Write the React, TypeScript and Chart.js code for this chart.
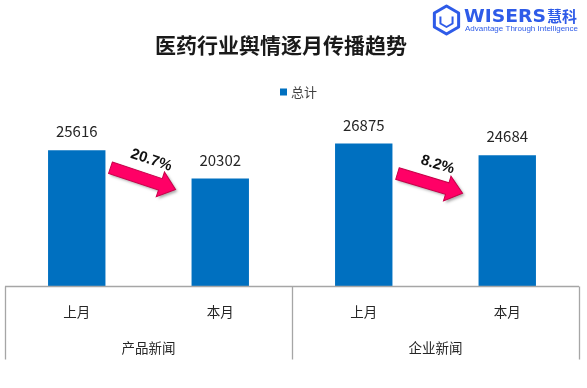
import React, { useEffect, useRef } from 'react';
import { Chart, registerables } from 'chart.js';

Chart.register(...registerables);

const chartTitle = '医药行业舆情逐月传播趋势';
const seriesName = '总计';
const categories = ['上月', '本月', '上月', '本月'];
const groups = ['产品新闻', '企业新闻'];
const values = [25616, 20302, 26875, 24684];
const changes = ['20.7%', '8.2%'];
const yMax = 30000;

const BLUE = '#0070C0';
const LOGO_BLUE = '#2E5BE8';
const CJK = '"Noto Sans CJK SC", "Noto Sans", sans-serif';

function drawArrow(ctx: CanvasRenderingContext2D, x1: number, y1: number, x2: number, y2: number) {
  const dx = x2 - x1;
  const dy = y2 - y1;
  const len = Math.hypot(dx, dy);
  const bw = 6;
  const hw = 13;
  const hl = 16;
  ctx.save();
  ctx.translate(x1, y1);
  ctx.rotate(Math.atan2(dy, dx));
  ctx.beginPath();
  ctx.moveTo(0, -bw);
  ctx.lineTo(len - hl, -bw);
  ctx.lineTo(len - hl, -hw);
  ctx.lineTo(len, 0);
  ctx.lineTo(len - hl, hw);
  ctx.lineTo(len - hl, bw);
  ctx.lineTo(0, bw);
  ctx.closePath();
  ctx.shadowColor = 'rgba(0,0,0,0.35)';
  ctx.shadowBlur = 3;
  ctx.shadowOffsetX = 2;
  ctx.shadowOffsetY = 2;
  ctx.fillStyle = '#FF0066';
  ctx.fill();
  ctx.shadowColor = 'transparent';
  ctx.strokeStyle = '#C8004A';
  ctx.lineWidth = 1;
  ctx.stroke();
  ctx.restore();
}

function drawLogo(ctx: CanvasRenderingContext2D) {
  ctx.save();
  const cx = 446.5;
  const cy = 20;
  const r = 14;
  ctx.strokeStyle = LOGO_BLUE;
  ctx.lineWidth = 3;
  ctx.lineJoin = 'round';
  ctx.beginPath();
  for (let i = 0; i < 6; i++) {
    const a = (Math.PI / 3) * i - Math.PI / 2;
    const px = cx + r * Math.cos(a);
    const py = cy + r * Math.sin(a);
    if (i === 0) ctx.moveTo(px, py);
    else ctx.lineTo(px, py);
  }
  ctx.closePath();
  ctx.stroke();
  ctx.lineWidth = 2;
  ctx.beginPath();
  const r2 = 7;
  for (let i = 0; i < 5; i++) {
    const a = (Math.PI / 3) * i - Math.PI / 6;
    const px = cx + r2 * Math.cos(a);
    const py = cy + r2 * Math.sin(a);
    if (i === 0) ctx.moveTo(px, py);
    else ctx.lineTo(px, py);
  }
  ctx.stroke();

  ctx.fillStyle = LOGO_BLUE;
  ctx.textBaseline = 'alphabetic';
  ctx.textAlign = 'left';
  ctx.font = 'bold 18px "DejaVu Sans", "Liberation Sans", Arial, sans-serif';
  const word = 'WISERS';
  const natural = ctx.measureText(word).width;
  ctx.save();
  ctx.translate(464, 22);
  ctx.scale(82 / natural, 1);
  ctx.fillText(word, 0, 0);
  ctx.restore();
  ctx.font = `bold 15px ${CJK}`;
  ctx.fillText('慧科', 547, 22);
  ctx.font = '8px "Liberation Sans", Arial, sans-serif';
  const tag = 'Advantage Through Intelligence';
  const w = ctx.measureText(tag).width;
  ctx.save();
  ctx.translate(465, 31);
  ctx.scale(113 / w, 1);
  ctx.fillText(tag, 0, 0);
  ctx.restore();
  ctx.restore();
}

const decorPlugin = {
  id: 'decor',
  beforeDraw(chart: any) {
    const ctx: CanvasRenderingContext2D = chart.ctx;
    ctx.save();
    ctx.fillStyle = '#FFFFFF';
    ctx.fillRect(0, 0, chart.width, chart.height);
    ctx.restore();
  },
  afterDatasetsDraw(chart: any) {
    const ctx: CanvasRenderingContext2D = chart.ctx;
    const area = chart.chartArea;
    const xs = chart.scales.x;
    const meta = chart.getDatasetMeta(0);
    ctx.save();

    // title
    ctx.fillStyle = '#1A1A1A';
    ctx.textAlign = 'center';
    ctx.textBaseline = 'middle';
    ctx.font = `bold 21px ${CJK}`;
    ctx.fillText(chartTitle, 281, 45);

    // legend
    ctx.font = `13px ${CJK}`;
    const lx = 280;
    ctx.fillStyle = BLUE;
    ctx.fillRect(lx, 88.5, 7, 7);
    ctx.fillStyle = '#404040';
    ctx.textAlign = 'left';
    ctx.fillText(seriesName, lx + 11, 92);

    // data labels
    ctx.textAlign = 'center';
    ctx.textBaseline = 'middle';
    ctx.fillStyle = '#262626';
    ctx.font = `15px ${CJK}`;
    meta.data.forEach((bar: any, i: number) => {
      ctx.fillText(String(values[i]), bar.x, bar.y - 18.5);
    });

    // axis
    const step = xs.getPixelForValue(1) - xs.getPixelForValue(0);
    const bottom = Math.round(area.bottom) + 0.5;
    ctx.strokeStyle = '#A6A6A6';
    ctx.lineWidth = 1.3;
    ctx.beginPath();
    const leftX = xs.getPixelForValue(0) - step / 2;
    const rightX = xs.getPixelForValue(categories.length - 1) + step / 2;
    ctx.moveTo(leftX, bottom);
    ctx.lineTo(rightX, bottom);
    for (let g = 0; g <= groups.length; g++) {
      const bx = Math.round(xs.getPixelForValue(g * 2) - step / 2) + 0.5;
      ctx.moveTo(bx, bottom);
      ctx.lineTo(bx, bottom + 73);
    }
    ctx.stroke();

    ctx.fillStyle = '#262626';
    ctx.font = `13.5px ${CJK}`;
    categories.forEach((c, i) => {
      ctx.fillText(c, xs.getPixelForValue(i), bottom + 25.5);
    });
    groups.forEach((g, gi) => {
      const gx = (xs.getPixelForValue(gi * 2) + xs.getPixelForValue(gi * 2 + 1)) / 2;
      ctx.fillText(g, gx, bottom + 61);
    });

    // change arrows
    const startOff = [17.5, 30];
    const endOff = [11, 38];
    changes.forEach((txt, i) => {
      const a = meta.data[i * 2];
      const b = meta.data[i * 2 + 1];
      const x1 = a.x + a.width / 2 + 5;
      const y1 = a.y + startOff[i];
      const x2 = b.x - b.width / 2 - 16;
      const y2 = b.y + endOff[i];
      drawArrow(ctx, x1, y1, x2, y2);
      const ang = Math.atan2(y2 - y1, x2 - x1);
      ctx.save();
      ctx.translate((x1 + x2) / 2, (y1 + y2) / 2);
      ctx.rotate(ang);
      ctx.fillStyle = '#111111';
      ctx.font = 'bold 15px "Liberation Sans", Arial, sans-serif';
      ctx.textAlign = 'center';
      ctx.textBaseline = 'middle';
      ctx.fillText(txt, 2, -20);
      ctx.restore();
    });

    drawLogo(ctx);
    ctx.restore();
  },
};

export default function App() {
  const ref = useRef<HTMLCanvasElement | null>(null);
  useEffect(() => {
    if (!ref.current) return;
    const chart = new Chart(ref.current, {
      type: 'bar',
      data: {
        labels: categories,
        datasets: [
          {
            label: seriesName,
            data: values,
            backgroundColor: BLUE,
            borderWidth: 0,
            barPercentage: 0.4,
            categoryPercentage: 1,
          },
        ],
      },
      options: {
        responsive: false,
        animation: false,
        devicePixelRatio: 1,
        layout: { padding: { left: 5, right: 8, top: 127, bottom: 102 } },
        scales: {
          x: { display: false, offset: true, grid: { display: false } },
          y: { display: false, min: 0, max: yMax },
        },
        plugins: {
          legend: { display: false },
          title: { display: false },
          tooltip: { enabled: false },
        },
      },
      plugins: [decorPlugin],
    });
    return () => chart.destroy();
  }, []);
  return (
    <div style={{ position: 'absolute', left: 0, top: 0, width: 587, height: 388, background: '#fff' }}>
      <canvas ref={ref} width={587} height={388} style={{ display: 'block' }} />
    </div>
  );
}
